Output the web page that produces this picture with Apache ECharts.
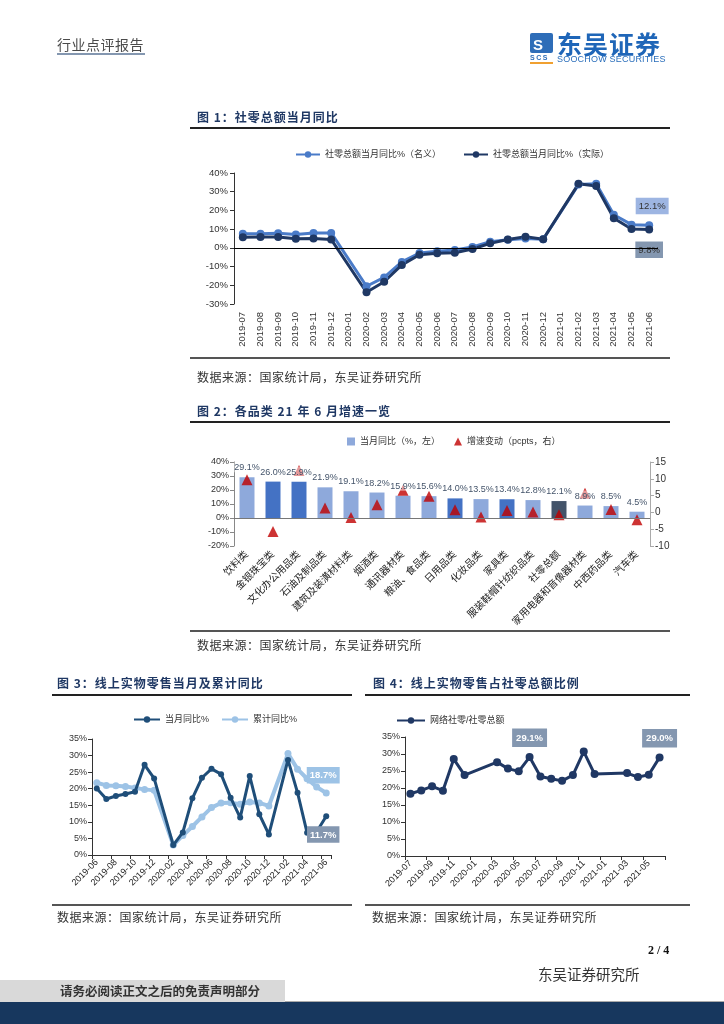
<!DOCTYPE html>
<html><head><meta charset="utf-8">
<script src="https://cdn.jsdelivr.net/npm/echarts@6/dist/echarts.min.js"></script>
<style>
body{margin:0;background:#fff;}
#page{position:relative;width:724px;height:1024px;overflow:hidden;font-family:"Noto Sans CJK SC",sans-serif;background:#fff;}
.t{position:absolute;white-space:nowrap;line-height:1;}
.ln{position:absolute;}
.ttl{font-size:12px;font-weight:bold;color:#1F3864;letter-spacing:1px;}
.src{font-size:12px;color:#333;letter-spacing:0.5px;}
</style></head><body>
<div id="page">
<div id="chart" style="position:absolute;left:0;top:0;width:724px;height:1024px"></div>

<!-- header -->
<div class="t" style="left:57px;top:37px;font-size:14px;color:#4a4a4a;letter-spacing:0.5px;">行业点评报告</div>
<div class="ln" style="left:57px;top:53px;width:88px;height:2px;background:#8497B0;"></div>
<div class="ln" style="left:530px;top:33px;width:23px;height:20px;background:#2E6DB8;border-radius:2px;"></div>
<div class="t" style="left:533px;top:37px;font-size:15px;font-weight:bold;color:#fff;font-family:'Liberation Sans';">S</div>
<div class="t" style="left:530px;top:54px;font-size:7px;font-weight:bold;color:#2E6DB8;font-family:'Liberation Sans';letter-spacing:1.5px;">SCS</div>
<div class="ln" style="left:530px;top:62px;width:23px;height:2px;background:#F0A030;"></div>
<div class="t" style="left:557px;top:31px;font-size:25px;font-weight:bold;color:#1F66B8;letter-spacing:1px;">东吴证券</div>
<div class="t" style="left:557px;top:55px;font-size:9px;color:#2A6EBB;font-family:'Liberation Sans';letter-spacing:0.2px;">SOOCHOW SECURITIES</div>

<!-- fig 1 -->
<div class="t ttl" style="left:197px;top:111px;">图 1：社零总额当月同比</div>
<div class="ln" style="left:190px;top:127px;width:480px;height:2px;background:#222;"></div>
<div class="ln" style="left:190px;top:357px;width:480px;height:2px;background:#555;"></div>
<div class="t src" style="left:197px;top:371px;">数据来源：国家统计局，东吴证券研究所</div>

<!-- fig 2 -->
<div class="t ttl" style="left:197px;top:405px;">图 2：各品类 21 年 6 月增速一览</div>
<div class="ln" style="left:190px;top:421px;width:480px;height:2px;background:#222;"></div>
<div class="ln" style="left:190px;top:630px;width:480px;height:2px;background:#555;"></div>
<div class="t src" style="left:197px;top:639px;">数据来源：国家统计局，东吴证券研究所</div>

<!-- fig 3 -->
<div class="t ttl" style="left:57px;top:677px;">图 3：线上实物零售当月及累计同比</div>
<div class="ln" style="left:52px;top:694px;width:300px;height:2px;background:#222;"></div>
<div class="ln" style="left:52px;top:904px;width:300px;height:2px;background:#555;"></div>
<div class="t src" style="left:57px;top:911px;">数据来源：国家统计局，东吴证券研究所</div>

<!-- fig 4 -->
<div class="t ttl" style="left:373px;top:677px;">图 4：线上实物零售占社零总额比例</div>
<div class="ln" style="left:365px;top:694px;width:325px;height:2px;background:#222;"></div>
<div class="ln" style="left:365px;top:904px;width:325px;height:2px;background:#555;"></div>
<div class="t src" style="left:372px;top:911px;">数据来源：国家统计局，东吴证券研究所</div>

<!-- footer -->
<div class="t" style="left:648px;top:944px;font-size:12px;font-weight:bold;color:#111;font-family:'Liberation Serif';">2 / 4</div>
<div class="t" style="left:538px;top:967px;font-size:14.5px;color:#333;">东吴证券研究所</div>
<div class="ln" style="left:0;top:980px;width:285px;height:22px;background:#D9D9D9;"></div>
<div class="t" style="left:60px;top:985px;font-size:12.5px;font-weight:bold;color:#333;">请务必阅读正文之后的免责声明部分</div>
<div class="ln" style="left:285px;top:1001px;width:439px;height:1px;background:#aaa;"></div>
<div class="ln" style="left:0;top:1002px;width:724px;height:22px;background:#17375E;"></div>
</div>

<script>
// ---------- Fig 1 data ----------
const months24 = ['2019-07','2019-08','2019-09','2019-10','2019-11','2019-12','2020-01','2020-02','2020-03','2020-04','2020-05','2020-06','2020-07','2020-08','2020-09','2020-10','2020-11','2020-12','2021-01','2021-02','2021-03','2021-04','2021-05','2021-06'];
const nominalYoY = [7.6,7.5,7.8,7.2,8.0,8.0,null,-20.5,-15.8,-7.5,-2.8,-1.8,-1.1,0.5,3.3,4.3,5.0,4.6,null,33.8,34.2,17.7,12.4,12.1];
const realYoY    = [5.7,5.8,5.8,4.9,5.0,4.5,null,-23.7,-18.1,-9.1,-3.7,-2.9,-2.6,-0.6,2.4,4.5,6.0,4.6,null,34.2,33.0,15.8,10.1,9.8];
const fig1Ticks = {min:-30, max:40, step:10};

// ---------- Fig 2 data ----------
const categories2 = ['饮料类','金银珠宝类','文化办公用品类','石油及制品类','建筑及装潢材料类','烟酒类','通讯器材类','粮油、食品类','日用品类','化妆品类','家具类','服装鞋帽针纺织品类','社零总额','家用电器和音像器材类','中西药品类','汽车类'];
const monthYoY2 = [29.1,26.0,25.9,21.9,19.1,18.2,15.9,15.6,14.0,13.5,13.4,12.8,12.1,8.9,8.5,4.5];
const speedChange2 = [9.7,-5.7,12.5,1.3,-1.5,2.3,6.6,4.8,0.8,-1.4,0.6,0.1,-0.7,5.7,0.9,-2.2];
const fig2LeftTicks = {min:-20, max:40, step:10};
const fig2RightTicks = {min:-10, max:15, step:5};
const highlight2 = ['金银珠宝类','文化办公用品类','日用品类','家具类'];
const total2 = '社零总额';

// ---------- Fig 3 data ----------
const months25 = ['2019-06','2019-07','2019-08','2019-09','2019-10','2019-11','2019-12','2020-01','2020-02','2020-03','2020-04','2020-05','2020-06','2020-07','2020-08','2020-09','2020-10','2020-11','2020-12','2021-01','2021-02','2021-03','2021-04','2021-05','2021-06'];
const onlineMonth = [20.1,16.9,17.8,18.4,19.1,27.2,23.1,null,3.0,6.8,17.1,23.3,26.0,24.4,17.3,11.3,23.8,12.3,6.2,null,28.7,18.8,6.7,7.0,11.7];
const onlineCum   = [21.8,21.0,20.9,20.7,20.2,19.8,19.5,null,3.0,5.9,8.6,11.5,14.3,15.7,15.8,15.3,16.0,15.7,14.8,null,30.6,25.9,23.0,20.5,18.7];

// ---------- Fig 4 data ----------
const onlineShare = [18.3,19.3,20.5,19.2,28.5,23.8,null,null,27.6,25.7,24.9,29.1,23.4,22.7,22.1,23.8,30.7,24.1,null,null,24.4,23.2,23.9,29.0];
const shareLabelIdx = [11, 23];
const pctTicks = {min:0, max:35, step:5};

// ---------- styles ----------
const FONT = "'Liberation Sans','Noto Sans CJK SC',sans-serif";
const pct = v => v + '%';
const fmt1 = p => Number(p.value).toFixed(1) + '%';

function withLabels(arr, idxs, label) {
  return arr.map((v, i) => idxs.includes(i) ? {value: v, label: Object.assign({show: true, formatter: fmt1}, label)} : v);
}
const boxLabel = (pos, bg, color, bold, offset, dist, pad) => ({
  position: pos, distance: dist, offset: offset || [0,0], backgroundColor: bg, color: color,
  fontSize: 9.5, fontWeight: bold ? 'bold' : 'normal', padding: pad || [4,3,3,3], fontFamily: FONT
});

const yAxisBase = (grid, t, extra) => Object.assign({
  type: 'value', gridIndex: grid, min: t.min, max: t.max, interval: t.step,
  axisLine: {show: true, lineStyle: {color: '#333', width: 1}},
  axisTick: {show: true, length: 4, lineStyle: {color: '#333'}},
  splitLine: {show: false},
  axisLabel: {formatter: pct, fontSize: 9, color: '#333', fontFamily: FONT, margin: 5}
}, extra || {});

const last = months24.length - 1;
const chart = echarts.init(document.getElementById('chart'), null, {renderer: 'canvas'});
chart.setOption({
  animation: false,
  textStyle: {fontFamily: FONT},
  grid: [
    {left: 234, top: 173, width: 424, height: 131},
    {left: 234, top: 462, width: 416, height: 84},
    {left: 92, top: 739, width: 239, height: 116},
    {left: 405, top: 737, width: 260, height: 119}
  ],
  legend: [
    {data: ['社零总额当月同比%（名义）', '社零总额当月同比%（实际）'], left: 290, top: 145, itemWidth: 24, itemHeight: 8, itemGap: 22, textStyle: {fontSize: 9, color: '#333'}},
    {data: [{name: '当月同比（%，左）', icon: 'rect'}, {name: '增速变动（pcpts，右）'}], left: 342, top: 432, itemWidth: 8, itemHeight: 8, itemGap: 14, textStyle: {fontSize: 9, color: '#333'}},
    {data: ['当月同比%', '累计同比%'], left: 128, top: 710, itemWidth: 26, itemHeight: 8, itemGap: 12, textStyle: {fontSize: 9, color: '#333'}},
    {data: ['网络社零/社零总额'], left: 391, top: 711, itemWidth: 28, itemHeight: 8, textStyle: {fontSize: 9, color: '#333'}}
  ],
  xAxis: [
    {type: 'category', gridIndex: 0, data: months24, boundaryGap: true,
     axisLine: {show: false}, axisTick: {show: false},
     axisLabel: {rotate: 90, interval: 0, fontSize: 9.5, color: '#333', margin: 8}},
    {type: 'category', gridIndex: 1, data: categories2, boundaryGap: true,
     axisLine: {show: false}, axisTick: {show: false},
     axisLabel: {rotate: 45, interval: 0, fontSize: 10, color: '#222', margin: 7}},
    {type: 'category', gridIndex: 2, data: months25, boundaryGap: true,
     axisLine: {show: true, lineStyle: {color: '#333'}},
     axisTick: {show: true, interval: 1, length: 4, lineStyle: {color: '#333'}},
     axisLabel: {rotate: 45, interval: 1, fontSize: 9, color: '#222', margin: 6}},
    {type: 'category', gridIndex: 3, data: months24, boundaryGap: true,
     axisLine: {show: true, lineStyle: {color: '#333'}},
     axisTick: {show: true, interval: 1, length: 4, lineStyle: {color: '#333'}},
     axisLabel: {rotate: 45, interval: 1, fontSize: 9, color: '#222', margin: 6}}
  ],
  yAxis: [
    yAxisBase(0, fig1Ticks, {axisLabel: {formatter: pct, fontSize: 9.5, color: '#333', fontFamily: FONT, margin: 6}}),
    yAxisBase(1, fig2LeftTicks, {axisLine: {show: true, lineStyle: {color: '#888'}}, axisTick: {show: true, length: 4, lineStyle: {color: '#888'}}}),
    yAxisBase(1, fig2RightTicks, {position: 'right', axisLine: {show: true, lineStyle: {color: '#aaa'}}, axisTick: {show: true, length: 4, lineStyle: {color: '#aaa'}},
      axisLabel: {formatter: '{value}', fontSize: 10, color: '#333', fontFamily: FONT, margin: 5}}),
    yAxisBase(2, pctTicks),
    yAxisBase(3, pctTicks)
  ],
  series: [
    {name: '社零总额当月同比%（名义）', type: 'line', xAxisIndex: 0, yAxisIndex: 0,
     data: withLabels(nominalYoY, [last], boxLabel('top', '#9DB5E2', '#333', false, [3,0], 7)),
     connectNulls: true, showAllSymbol: true, color: '#4A7BC8', lineStyle: {width: 3}, symbol: 'circle', symbolSize: 8,
     markLine: {silent: true, symbol: ['none','none'], label: {show: false}, lineStyle: {color: '#000', width: 1, type: 'solid'}, data: [{yAxis: 0}]}},
    {name: '社零总额当月同比%（实际）', type: 'line', xAxisIndex: 0, yAxisIndex: 0,
     data: withLabels(realYoY, [last], boxLabel('bottom', '#8497B0', '#333', false, [0,0], 8)),
     connectNulls: true, showAllSymbol: true, color: '#1F3864', lineStyle: {width: 3}, symbol: 'circle', symbolSize: 8},

    {name: '当月同比（%，左）', type: 'bar', xAxisIndex: 1, yAxisIndex: 1, barWidth: 15, z: 2,
     color: '#8EA9DB',
     data: monthYoY2.map((v, i) => ({value: v, itemStyle: {color: categories2[i] === total2 ? '#44546A' : (highlight2.includes(categories2[i]) ? '#4472C4' : '#8EA9DB')}})),
     markLine: {silent: true, symbol: ['none','none'], label: {show: false}, lineStyle: {color: '#777', width: 1, type: 'solid'}, data: [{yAxis: 0}]}},
    {name: '增速变动（pcpts，右）', type: 'scatter', xAxisIndex: 1, yAxisIndex: 2, z: 3,
     data: speedChange2, symbol: 'triangle', symbolSize: 11, color: '#C00000'},
    {name: '_labels2', type: 'bar', xAxisIndex: 1, yAxisIndex: 1, barWidth: 15, barGap: '-100%', z: 4,
     data: monthYoY2, itemStyle: {color: 'rgba(0,0,0,0)'},
     label: {show: true, position: 'top', distance: 5, formatter: fmt1, fontSize: 9, color: '#44546A',
             backgroundColor: 'rgba(255,255,255,0.5)', padding: [1,0,0,0], fontFamily: FONT}},

    {name: '累计同比%', type: 'line', xAxisIndex: 2, yAxisIndex: 3,
     data: withLabels(onlineCum, [months25.length - 1], boxLabel('top', '#9DC3E6', '#fff', true, [-3,0], 6)),
     connectNulls: true, showAllSymbol: true, color: '#9DC3E6', lineStyle: {width: 4}, symbol: 'circle', symbolSize: 7, z: 2},
    {name: '当月同比%', type: 'line', xAxisIndex: 2, yAxisIndex: 3,
     data: withLabels(onlineMonth, [months25.length - 1], boxLabel('bottom', '#8497B0', '#fff', true, [-3,0], 7)),
     connectNulls: true, showAllSymbol: true, color: '#1F4E79', lineStyle: {width: 3}, symbol: 'circle', symbolSize: 6, z: 3},

    {name: '网络社零/社零总额', type: 'line', xAxisIndex: 3, yAxisIndex: 4,
     data: withLabels(onlineShare, shareLabelIdx, boxLabel('top', '#8497B0', '#fff', true, [0,0], 6, [5,4,4,4])),
     connectNulls: true, showAllSymbol: true, color: '#203864', lineStyle: {width: 3}, symbol: 'circle', symbolSize: 8}
  ]
});
</script>
</body></html>
